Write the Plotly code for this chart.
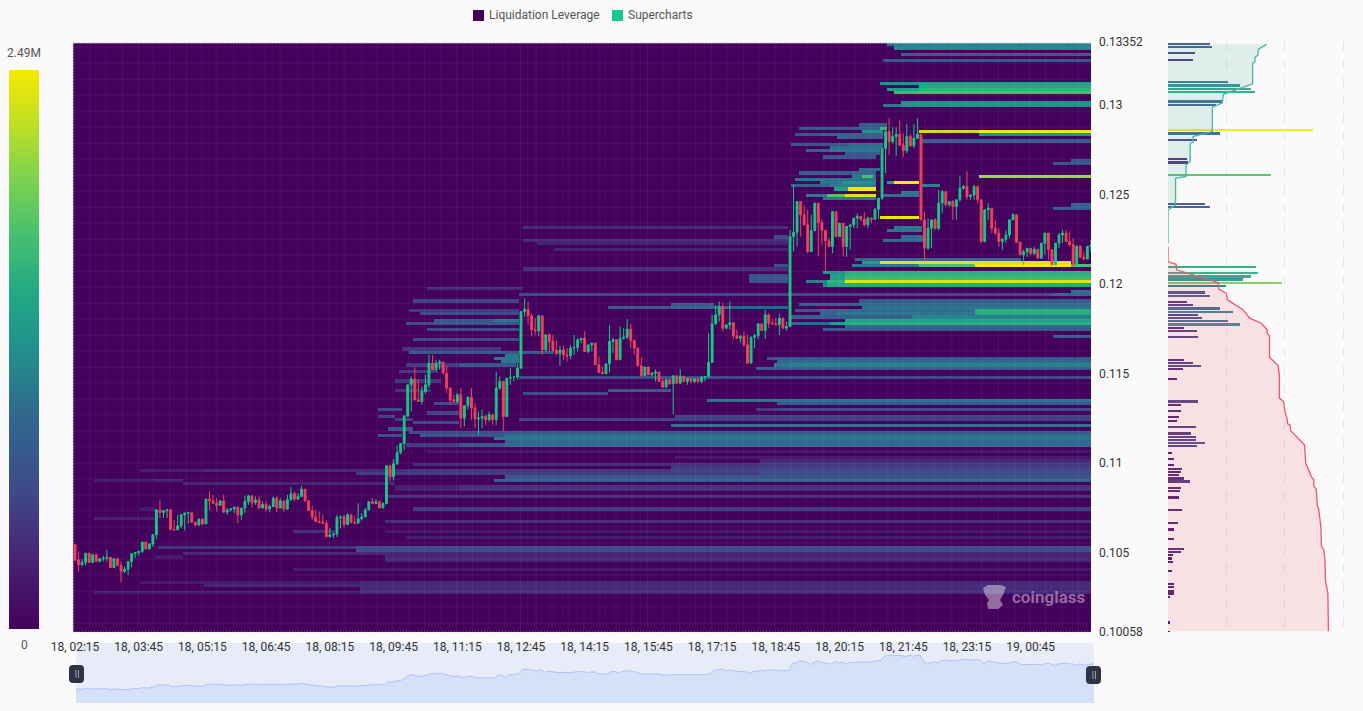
import numpy as np
import pandas as pd
import plotly.graph_objects as go

W, H = 1363, 711
BG = "#fafafa"
FONT = "Roboto, Arial, sans-serif"

# ---- candles: prices in units of 0.00001, 5-minute bars
first_open = 10545
closes = [
10461,10433,10448,10498,10446,10489,10452,10467,10470,10475,
10418,10467,10430,10396,10409,10452,10495,10502,10508,10560,
10521,10549,10601,10740,10725,10735,10740,10632,10628,10651,
10712,10722,10724,10670,10656,10688,10662,10800,10790,10777,
10765,10790,10727,10740,10745,10755,10712,10750,10787,10818,
10782,10795,10750,10770,10745,10758,10805,10750,10790,10745,
10797,10830,10800,10815,10855,10790,10736,10700,10675,10670,
10665,10590,10600,10605,10697,10700,10658,10712,10670,10665,
10690,10700,10740,10785,10775,10785,10750,10775,10986,10925,
10997,11060,11110,11265,11438,11470,11354,11345,11401,11438,
11559,11522,11559,11565,11503,11420,11354,11345,11382,11252,
11321,11369,11308,11247,11252,11261,11243,11271,11243,11420,
11457,11261,11475,11480,11481,11531,11847,11860,11823,11745,
11740,11823,11633,11717,11680,11630,11611,11633,11605,11600,
11643,11647,11689,11698,11624,11661,11671,11550,11507,11500,
11555,11680,11690,11578,11698,11704,11749,11687,11643,11544,
11488,11537,11494,11503,11510,11457,11425,11466,11444,11488,
11447,11485,11457,11475,11457,11472,11457,11481,11483,11563,
11778,11829,11875,11754,11773,11785,11712,11698,11708,11661,
11559,11704,11712,11778,11741,11829,11782,11778,11773,11810,
11754,11764,12266,12290,12461,12387,12331,12182,12298,12452,
12344,12300,12242,12210,12405,12266,12340,12210,12322,12331,
12368,12378,12363,12331,12368,12363,12418,12480,12758,12851,
12796,12824,12837,12777,12745,12824,12772,12814,12837,12359,
12201,12312,12359,12312,12452,12517,12443,12461,12433,12471,
12536,12545,12489,12498,12545,12471,12238,12415,12424,12312,
12285,12238,12251,12275,12359,12387,12233,12164,12180,12200,
12170,12195,12145,12229,12285,12192,12108,12229,12275,12285,
12238,12220,12108,12210,12151,12140,12210,12218]
highs = [
10545,10508,10465,10498,10498,10489,10495,10470,10483,10517,
10475,10467,10467,10452,10424,10452,10495,10502,10508,10560,
10560,10554,10604,10744,10796,10740,10744,10740,10684,10712,
10716,10722,10724,10724,10675,10694,10694,10800,10842,10824,
10805,10795,10824,10750,10750,10755,10759,10750,10818,10824,
10818,10815,10815,10787,10787,10768,10815,10815,10805,10787,
10824,10867,10842,10833,10874,10855,10796,10762,10740,10731,
10712,10680,10638,10610,10712,10708,10712,10722,10712,10703,
10777,10722,10750,10787,10805,10800,10792,10783,10986,10990,
11023,11100,11113,11265,11438,11485,11535,11466,11429,11494,
11605,11605,11578,11578,11544,11544,11414,11382,11392,11420,
11326,11373,11420,11336,11289,11299,11271,11289,11261,11512,
11485,11457,11475,11531,11485,11559,11847,11922,11903,11838,
11810,11829,11805,11717,11726,11717,11689,11656,11656,11643,
11661,11717,11698,11698,11736,11661,11671,11671,11596,11540,
11555,11773,11698,11656,11764,11754,11805,11778,11689,11643,
11592,11537,11531,11507,11525,11507,11475,11475,11475,11488,
11488,11525,11485,11475,11475,11475,11475,11485,11485,11726,
11829,11884,11903,11894,11773,11903,11782,11745,11717,11736,
11717,11708,11723,11782,11773,11857,11838,11805,11810,11834,
11810,11791,12303,12554,12461,12461,12443,12415,12387,12452,
12452,12359,12303,12257,12405,12405,12340,12340,12322,12331,
12368,12396,12378,12405,12378,12374,12424,12480,12758,12861,
12926,12876,12876,12917,12842,12894,12837,12894,12926,12840,
12405,12368,12359,12368,12526,12526,12517,12461,12471,12471,
12601,12554,12629,12498,12554,12545,12471,12415,12452,12424,
12359,12312,12257,12303,12359,12396,12387,12238,12192,12200,
12200,12210,12195,12229,12285,12285,12192,12229,12285,12303,
12303,12294,12257,12219,12219,12182,12214,12247]
lows = [
10452,10396,10428,10430,10443,10443,10452,10446,10452,10452,
10418,10433,10430,10335,10387,10377,10420,10470,10484,10498,
10521,10521,10532,10577,10694,10694,10694,10632,10625,10628,
10636,10625,10662,10670,10647,10651,10656,10662,10740,10777,
10730,10765,10722,10712,10731,10722,10666,10684,10722,10768,
10755,10768,10744,10759,10731,10725,10768,10727,10750,10731,
10740,10787,10787,10796,10818,10787,10736,10684,10675,10670,
10662,10588,10588,10582,10588,10638,10642,10656,10665,10660,
10665,10680,10705,10736,10775,10775,10750,10750,10770,10898,
10904,10990,11050,11075,11258,11289,11354,11345,11326,11388,
11420,11522,11522,11522,11503,11392,11326,11345,11336,11196,
11206,11299,11243,11196,11159,11196,11215,11233,11215,11215,
11410,11178,11258,11438,11457,11466,11550,11819,11773,11708,
11717,11708,11605,11624,11624,11624,11605,11544,11578,11568,
11581,11605,11624,11671,11624,11615,11624,11550,11507,11500,
11500,11507,11615,11578,11600,11689,11693,11643,11605,11540,
11485,11494,11494,11485,11457,11457,11425,11432,11438,11274,
11447,11447,11457,11438,11447,11447,11447,11447,11457,11481,
11563,11773,11791,11736,11749,11745,11693,11693,11674,11652,
11559,11559,11643,11693,11741,11693,11754,11778,11773,11717,
11754,11741,11770,12182,12210,12266,12331,12173,12182,12298,
12154,12220,12071,12210,12173,12266,12266,12154,12151,12192,
12312,12312,12350,12322,12312,12340,12359,12363,12470,12619,
12721,12786,12716,12768,12708,12731,12768,12758,12811,12359,
12127,12192,12201,12303,12300,12396,12433,12433,12359,12359,
12461,12526,12471,12471,12471,12452,12229,12233,12359,12285,
12275,12210,12192,12229,12257,12359,12233,12164,12108,12151,
12164,12164,12145,12145,12164,12136,12108,12108,12201,12229,
12238,12210,12099,12132,12145,12136,12140,12182]

# ---- axis labels
y_tick_vals = [0.10058, 0.105, 0.11, 0.115, 0.12, 0.125, 0.13, 0.13352]
y_tick_text = ["0.10058", "0.105", "0.11", "0.115", "0.12", "0.125", "0.13", "0.13352"]
Y_MIN, Y_MAX = 0.10058, 0.13352
MAX_LEVEL = 2.49e6

# ---- liquidation heat bands: (price row, first bar, last bar, share of the maximum)
END = 288
bands_top = [
 (183,229,END,.40),(183,231,END,.45),(182,231,END,.45),(180,233,END,.33),(178,228,END,.30),
 (171,227,END,.50),(171,238,END,.55),(170,238,END,.60),(169,229,END,.55),(169,238,END,.65),
 (168,231,END,.68),(168,238,END,.70),(165,233,END,.50),(164,228,END,.42),(164,233,END,.50),
 (156,238,END,.92),(156,255,END,1.0),(155,255,END,.50),(153,239,END,.33),(147,281,END,.30),
 (146,276,END,.30),(142,255,END,.85),(140,229,238,.55),(140,231,238,1.0),(139,239,244,.45),
 (137,233,238,.42),(136,228,238,.40),(129,227,238,.97),(126,231,239,.42),(125,229,239,.42),
 (123,233,240,.38),(122,228,240,.38),(133,281,END,.35),(132,276,END,.33),
]
bands_cluster = [
 (158,221,229,.33),(157,204,229,.30),(157,221,229,.35),(157,227,229,.65),(156,222,228,.50),
 (155,203,228,.30),(155,210,228,.35),(154,215,228,.35),(152,202,228,.28),(152,218,228,.40),
 (151,213,228,.40),(150,206,227,.33),(150,213,227,.42),(149,217,227,.32),(148,211,226,.30),
 (144,221,227,.38),(143,204,226,.33),(143,219,226,.38),(142,219,226,.42),(142,222,225,.70),
 (141,203,226,.42),(140,210,226,.40),(140,216,226,.50),(139,202,218,.35),(139,213,226,.45),
 (138,214,218,.55),(138,218,226,1.0),(136,206,226,.42),(136,212,226,.72),(136,217,226,.95),
 (135,211,226,.42),
 (126,126,201,.15),(122,126,201,.14),(121,130,201,.12),(119,135,201,.12),(113,126,201,.16),
 (114,197,201,.25),(123,197,201,.25),(111,190,201,.28),(110,190,201,.30),(109,190,201,.28),
]
bands_mid = [
 (116,220,267,.38),(115,222,281,.55),(115,227,281,.95),(114,219,END,.42),(114,238,END,.70),
 (114,254,281,1.0),(112,211,END,.50),(112,217,END,.62),(111,213,END,.55),(111,217,END,.65),
 (110,213,END,.55),(110,217,END,.68),(109,206,END,.45),(109,212,END,.65),(109,217,END,.95),
 (108,211,END,.45),(108,212,END,.60),(106,281,END,.40),(105,125,END,.25),(105,276,END,.38),
 (103,221,END,.32),(102,204,END,.32),(102,221,END,.38),(101,222,END,.42),(100,203,END,.30),
 (100,210,END,.38),(100,254,END,.62),(99,210,END,.35),(99,215,END,.42),(99,254,END,.62),
 (98,202,END,.33),(98,236,END,.45),(97,217,END,.58),(96,201,END,.35),(96,213,END,.55),
 (96,217,END,.62),(95,217,END,.38),(94,211,END,.32),(92,276,END,.30),(85,195,END,.30),
 (84,198,END,.38),(83,197,END,.42),(83,201,END,.45),(82,192,END,.30),(79,125,END,.25),
 (72,178,END,.40),(71,198,END,.33),(69,192,END,.20),(69,198,END,.25),(67,169,END,.22),
 (66,125,END,.22),(64,168,END,.40),(62,121,END,.30),(61,121,END,.40),(60,118,END,.42),
 (59,121,END,.38),(58,121,END,.38),
 (107,99,126,.15),(103,95,125,.22),(101,150,201,.33),(101,168,201,.35),(102,168,180,.30),
 (100,94,125,.20),(99,97,125,.25),(97,101,125,.30),(97,118,125,.42),(96,93,125,.25),
 (96,101,125,.30),(94,99,125,.25),(91,95,125,.25),(88,92,120,.18),(87,94,135,.30),
 (86,121,125,.42),(85,118,125,.42),(84,120,125,.40),(83,108,124,.30),(83,93,108,.20),
 (81,91,102,.20),(78,90,103,.18),(75,150,168,.33),(75,90,100,.18),(74,126,150,.25),
 (71,101,108,.25),(69,85,92,.25),(68,99,108,.22),(67,85,90,.22),(66,90,95,.22),
 (65,95,108,.25),(63,88,95,.28),(62,94,121,.25),(61,85,92,.28),(61,97,121,.30),
 (58,93,108,.20),(58,108,121,.30),
]
bands_low = [
 (56,99,END,.08),(54,169,END,.08),(53,193,END,.14),(52,95,END,.15),(52,168,END,.17),(52,193,END,.20),
 (51,168,END,.19),(51,193,END,.23),(50,18,36,.10),(50,36,END,.14),(50,92,END,.17),(50,168,END,.22),
 (50,193,END,.24),(49,79,END,.21),(49,193,END,.25),(48,121,END,.29),(47,118,END,.34),(47,193,END,.36),
 (47,5,22,.08),(47,22,30,.12),(46,30,90,.13),(45,90,108,.11),(45,108,END,.17),(44,90,108,.11),
 (44,108,END,.17),(42,87,END,.16),(38,18,22,.08),(38,95,END,.20),(35,5,22,.11),(34,87,END,.16),
 (31,61,73,.16),(31,87,END,.08),(29,93,END,.10),(26,23,END,.18),(26,79,END,.26),(25,79,END,.27),
 (24,30,END,.13),(23,22,30,.08),(23,87,END,.13),(22,87,END,.13),(19,61,END,.08),(15,18,END,.10),
 (15,80,END,.15),(14,36,END,.13),(14,80,END,.15),(13,80,END,.15),(12,5,END,.10),(12,80,END,.15),
]

# ---- right-hand panel: liquidation per level (price, millions)
profile_price = [
 .13343,.13326,.13291,.13253,.13129,.13110,.13092,.13075,.13021,.13002,.12861,.12842,.12807,.12699,
 .12680,.12610,.12450,.12431,.12098,.12063,.12044,.12028,.12009,.11990,.11955,.11936,.11901,.11884,
 .11866,.11847,.11830,.11812,.11795,.11776,.11758,.11741,.11706,.11579,.11561,.11544,.11526,.11472,
 .11347,.11328,.11293,.11258,.11239,.11204,.11168,.11150,.11133,.11114,.11096,.11060,.11025,.10990,
 .10971,.10954,.10936,.10917,.10900,.10863,.10847,.10811,.10739,.10668,.10631,.10577,.10523,.10506,
 .10488,.10469,.10452,.10398,.10328,.10309,.10290,.10274,.10255,.10112,.10058]
profile_value = [
 .72,.75,.46,.42,1.03,1.24,1.43,1.49,.93,.83,2.49,.89,.50,.32,.35,1.76,.63,.72,1.50,1.55,1.43,1.29,
 1.96,.99,.63,.72,.33,.42,.89,1.12,.52,.59,1.02,1.23,.28,.49,.51,.27,.43,.56,.26,.15,.52,.22,.23,
 .19,.16,.48,.39,.48,.48,.64,.50,.06,.10,.10,.24,.22,.19,.28,.37,.22,.20,.18,.24,.17,.10,.10,.27,
 .23,.08,.07,.08,.07,.11,.10,.11,.10,.03,.04,.04]
cum_short_price = [.13339,.13311,.13279,.13266,.13240,.13233,.13118,.13060,.13013,.12987,.12852,.12824,
 .12792,.12787,.12684,.12666,.12601,.12591,.12442,.12414,.12228]
cum_short_value = [1.69,1.55,1.54,1.49,1.49,1.45,1.45,.95,.93,.76,.76,.43,.43,.38,.38,.31,.31,.13,.13,0,0]
cum_long_price = [.12210,.12126,.12111,.12080,.12052,.12009,.11972,.11949,.11912,.11856,.11810,.11782,
 .11745,.11723,.11712,.11592,.11544,.11485,.11364,.11345,.11280,.11252,.11220,.11215,.11183,.11113,
 .11103,.11001,.10923,.10908,.10871,.10856,.10759,.10750,.10685,.10648,.10536,.10517,.10462,.10341,
 .10275,.10062]
cum_long_value = [0,0,.14,.15,.43,.86,.87,1.0,1.02,1.29,1.40,1.60,1.70,1.70,1.74,1.74,1.89,1.91,1.91,
 1.98,2.01,2.04,2.05,2.09,2.10,2.32,2.34,2.36,2.46,2.50,2.50,2.54,2.56,2.58,2.60,2.62,2.63,2.67,2.69,
 2.70,2.74,2.75]

# ---- build
def px_x(p): return p / W
def px_y(p): return 1 - p / H

times = pd.date_range("2025-05-18 02:15", periods=288, freq="5min")
closes_p = np.array(closes) / 1e5
opens_p = np.r_[first_open / 1e5, closes_p[:-1]]
highs_p = np.maximum.reduce([np.array(highs) / 1e5, opens_p, closes_p])
lows_p = np.minimum.reduce([np.array(lows) / 1e5, opens_p, closes_p])

n_rows = 184
row_step = (Y_MAX - Y_MIN) / 184.4
row_price = Y_MIN + (np.arange(n_rows) + 0.5) * row_step
z = np.zeros((n_rows, len(times)))
for b in bands_top + bands_cluster + bands_mid + bands_low:
    r, a, e, lv = b
    z[r, a + 1:e + 1] = np.maximum(z[r, a + 1:e + 1], lv * MAX_LEVEL)

scale = [[0, "#43015c"], [.13, "#482475"], [.25, "#3e4a89"], [.38, "#31688e"], [.5, "#21918c"],
         [.6, "#22a884"], [.7, "#44bf70"], [.8, "#7ad151"], [.9, "#bddf26"], [1, "#f6ea00"]]

x_start = times[0] - pd.Timedelta(seconds=170)
x_end = x_start + pd.Timedelta(minutes=1438)

fig = go.Figure()
fig.add_trace(go.Heatmap(
    x=times, y=row_price, z=z, zmin=0, zmax=MAX_LEVEL, colorscale=scale, hoverinfo="skip",
    colorbar=dict(x=px_x(9), xanchor="left", thickness=30, thicknessmode="pixels",
                  len=(629 - 70) / H, lenmode="fraction", y=px_y(70), yanchor="top",
                  xpad=0, ypad=0, outlinewidth=0, showticklabels=False, ticks="")))

# faint lattices over the heat map, following the axes
def lattice(x_freq, y_step, y_first, color, width):
    gx, gy = [], []
    for t in pd.date_range(times[0] - pd.Timedelta(minutes=1), x_end, freq=x_freq):
        gx += [t, t, None]
        gy += [Y_MIN, Y_MAX, None]
    for p in np.arange(Y_MIN + y_first, Y_MAX, y_step):
        gx += [x_start, x_end, None]
        gy += [p, p, None]
    return go.Scatter(x=gx, y=gy, mode="lines", line=dict(color=color, width=width),
                      hoverinfo="skip", showlegend=False)

fig.add_trace(lattice("10min", 0.000357, 0.0001, "rgba(255,255,255,0.025)", 1))
fig.add_trace(lattice("22.5min", 0.000893, 0.0005, "rgba(255,255,255,0.04)", 1.5))

fig.add_trace(go.Candlestick(
    x=times, open=opens_p, high=highs_p, low=lows_p, close=closes_p, whiskerwidth=0,
    increasing=dict(line=dict(color="#16c784", width=1), fillcolor="#16c784"),
    decreasing=dict(line=dict(color="#ef4058", width=1), fillcolor="#ef4058"),
    showlegend=False))

# right panel
fig.add_trace(go.Scatter(x=np.array(cum_short_value) * 1e6, y=cum_short_price, xaxis="x2", yaxis="y2",
                         mode="lines", fill="tozerox", fillcolor="rgba(20,150,120,0.11)",
                         line=dict(color="#45b8a4", width=1.3), hoverinfo="skip", showlegend=False))
fig.add_trace(go.Scatter(x=np.array(cum_long_value) * 1e6, y=cum_long_price, xaxis="x2", yaxis="y2",
                         mode="lines", fill="tozerox", fillcolor="rgba(230,50,70,0.12)",
                         line=dict(color="#f0566c", width=1.3), hoverinfo="skip", showlegend=False))
fig.add_trace(go.Bar(x=np.array(profile_value) * 1e6, y=profile_price, xaxis="x2", yaxis="y2",
                     orientation="h", width=0.0001, opacity=0.9,
                     marker=dict(color=np.array(profile_value) * 1e6, colorscale=scale, cmin=0,
                                 cmax=MAX_LEVEL, line=dict(width=0)),
                     hoverinfo="skip", showlegend=False))

# range navigator
fig.add_trace(go.Scatter(x=times, y=closes_p, xaxis="x3", yaxis="y3", mode="lines", fill="tozeroy",
                         fillcolor="#d5e0f9", line=dict(color="#aec4f6", width=1),
                         hoverinfo="skip", showlegend=False))

def rrect(x0, y0, x1, y1, r, color):
    X0, X1, Y0, Y1 = px_x(x0), px_x(x1), px_y(y0), px_y(y1)
    rx, ry = r / W, r / H
    path = (f"M{X0+rx},{Y0} L{X1-rx},{Y0} Q{X1},{Y0} {X1},{Y0-ry} L{X1},{Y1+ry} Q{X1},{Y1} {X1-rx},{Y1} "
            f"L{X0+rx},{Y1} Q{X0},{Y1} {X0},{Y1+ry} L{X0},{Y0-ry} Q{X0},{Y0} {X0+rx},{Y0} Z")
    return dict(type="path", xref="paper", yref="paper", path=path, fillcolor=color, line=dict(width=0))

def prect(x0, y0, x1, y1, color, layer="above"):
    return dict(type="rect", xref="paper", yref="paper", x0=px_x(x0), x1=px_x(x1), y0=px_y(y1), y1=px_y(y0),
                fillcolor=color, line=dict(width=0), layer=layer)

def edge(x0, y0, x1, y1):
    return dict(type="line", xref="paper", yref="paper", x0=px_x(x0), x1=px_x(x1), y0=px_y(y0), y1=px_y(y1),
                line=dict(color="rgba(205,180,215,0.75)", width=1, dash="1px,2px"))

logo = [(983,588),(988,585),(1000,585),(1006,587),(1003,595),(1000,600),(1003,605),(998,609),(988,609),
        (987,603),(989,600),(985,595)]
logo_path = "M" + " L".join(f"{px_x(a)},{px_y(b)}" for a, b in logo) + " Z"

shapes = [
    prect(76, 643, 1094, 703, "#e8ecf9", "below"),
    prect(473, 10, 484, 21, "#440154"),
    prect(612, 10, 623, 21, "#15c98a"),
    rrect(69, 665, 84, 683, 4, "#2e3345"),
    rrect(1086, 666, 1101, 684, 4, "#2e3345"),
    prect(75.5, 670, 76.5, 678, "#9aa0ae"), prect(78, 670, 79, 678, "#9aa0ae"),
    prect(1092.5, 671, 1093.5, 679, "#9aa0ae"), prect(1095, 671, 1096, 679, "#9aa0ae"),
    edge(72.5, 42, 72.5, 632), edge(73, 42.5, 1091, 42.5), edge(73, 632, 1091, 632),
    dict(type="path", xref="paper", yref="paper", path=logo_path, fillcolor="rgba(255,255,255,0.42)",
         line=dict(width=0)),
]

def note(x, y, text, size=12, color="#555", anchor="left"):
    return dict(xref="paper", yref="paper", x=px_x(x), y=px_y(y), text=text, showarrow=False, xanchor=anchor,
                yanchor="middle", align=anchor, font=dict(family=FONT, size=size, color=color), borderpad=0)

annotations = [
    note(488, 15, "Liquidation Leverage"),
    note(627, 15, "Supercharts"),
    note(24, 53, "2.49M", anchor="center"),
    note(24, 645, "0", anchor="center"),
    note(1011, 597, "<b>coinglass</b>", size=17, color="rgba(255,255,255,0.42)"),
]

fig.update_layout(
    width=W, height=H, autosize=False, margin=dict(l=0, r=0, t=0, b=0, autoexpand=False),
    paper_bgcolor=BG, plot_bgcolor=BG, font=dict(family=FONT, size=12, color="#333"),
    showlegend=False, shapes=shapes, annotations=annotations, boxgap=0.25, bargap=0,
    xaxis=dict(domain=[px_x(73), px_x(1091)], range=[x_start, x_end], anchor="y", showgrid=False, zeroline=False,
               rangeslider=dict(visible=False), tickmode="array", tickvals=list(times[::18]),
               tickformat="%d, %H:%M", ticks="", showline=False, ticklabelstandoff=6,
               tickfont=dict(family=FONT, size=12, color="#333")),
    yaxis=dict(domain=[px_y(632), px_y(42)], range=[Y_MIN, Y_MAX], anchor="x", side="right", showgrid=False,
               zeroline=False, tickmode="array", tickvals=y_tick_vals, ticktext=y_tick_text, ticks="",
               ticklabelstandoff=7, tickfont=dict(family=FONT, size=12, color="#333")),
    xaxis2=dict(domain=[px_x(1168), px_x(1345)], range=[0, 3.034e6], anchor="y2", dtick=1e6, showgrid=True,
                griddash="dash", gridcolor="#e6e6e6", gridwidth=1, zeroline=False, showticklabels=False, ticks=""),
    yaxis2=dict(domain=[px_y(632), px_y(42)], range=[Y_MIN, Y_MAX], anchor="x2", showgrid=False, zeroline=False,
                showticklabels=False, ticks=""),
    xaxis3=dict(domain=[px_x(76), px_x(1094)], range=[times[0], times[-1]], anchor="y3", showgrid=False,
                zeroline=False, showticklabels=False, ticks=""),
    yaxis3=dict(domain=[px_y(703), px_y(644)], range=[0.0948, 0.1362], anchor="x3", showgrid=False,
                zeroline=False, showticklabels=False, ticks=""),
)

fig.write_html("out.html", config={"displayModeBar": False},
               post_script=f"document.body.style.margin='0';document.body.style.background='{BG}';"
                           "document.documentElement.style.overflow='hidden';")
